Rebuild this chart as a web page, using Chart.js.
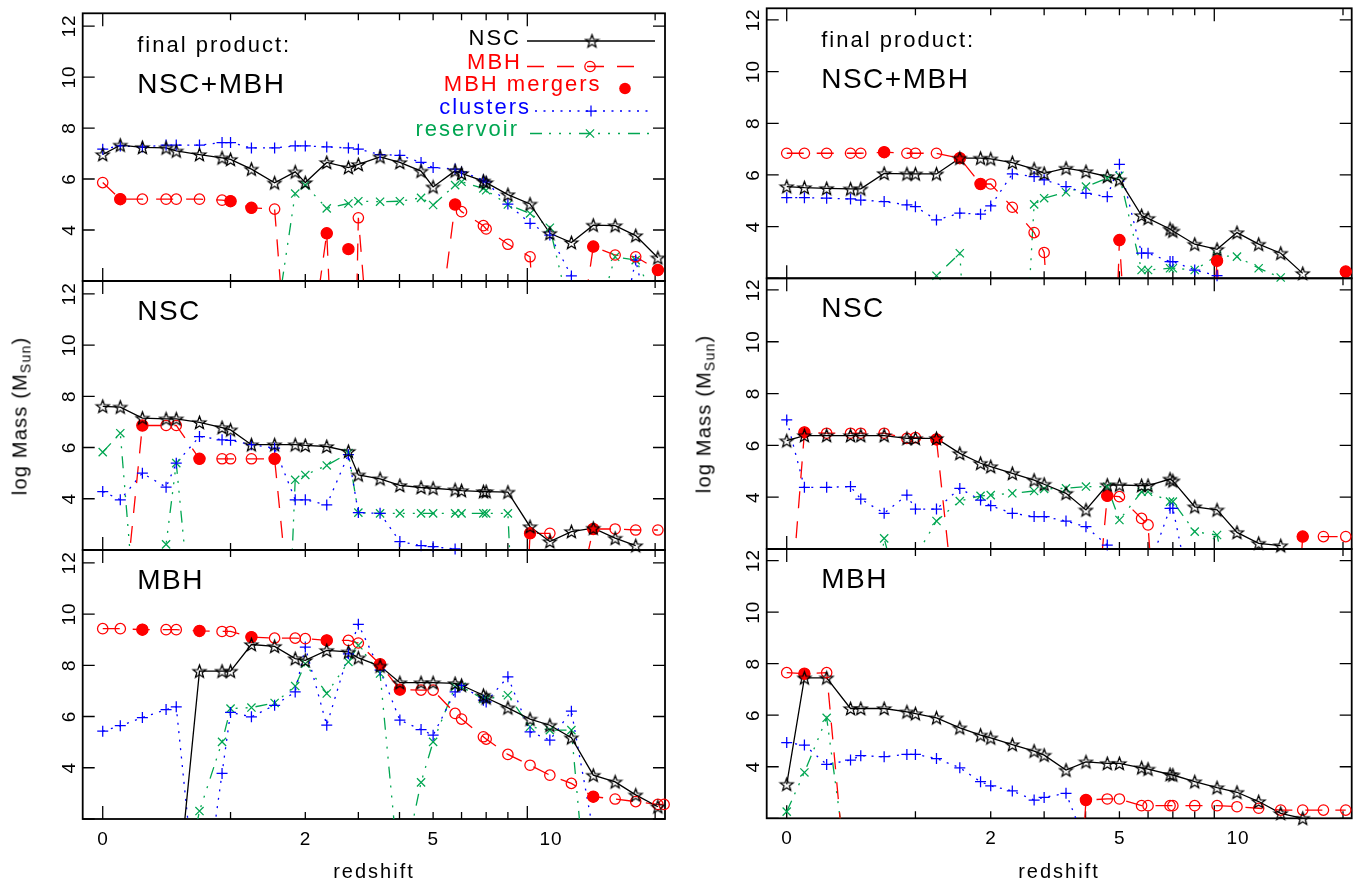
<!DOCTYPE html>
<html>
<head>
<meta charset="utf-8">
<title>NSC and MBH mass growth versus redshift</title>
<script src="https://cdn.jsdelivr.net/npm/chart.js@4.4.1/dist/chart.umd.min.js"></script>
<style>
  html, body { margin: 0; padding: 0; background: #fff; }
  #wrap { position: relative; width: 1369px; height: 884px; overflow: hidden;
          font-family: "Liberation Sans", Arial, sans-serif; color: #000; }
  #wrap canvas { position: absolute; left: 0; top: 0; }
  .ytitle { position: absolute; font-size: 20px; letter-spacing: 1.2px; white-space: nowrap;
            transform: translate(-50%, -50%) rotate(-90deg); }
  .ytitle sub { font-size: 14px; vertical-align: -4px; }
  .xtitle { position: absolute; font-size: 20px; letter-spacing: 2px; white-space: nowrap;
            transform: translateX(-50%); }
</style>
</head>
<body>
<div id="wrap">
  <canvas id="c0" width="1369" height="884"></canvas>
  <canvas id="c1" width="1369" height="884"></canvas>
  <canvas id="c2" width="1369" height="884"></canvas>
  <canvas id="c3" width="1369" height="884"></canvas>
  <canvas id="c4" width="1369" height="884"></canvas>
  <canvas id="c5" width="1369" height="884"></canvas>
  <div class="ytitle" style="left:21px;top:416px">log Mass (M<sub>Sun</sub>)</div>
  <div class="ytitle" style="left:705px;top:414px">log Mass (M<sub>Sun</sub>)</div>
  <div class="xtitle" style="left:374px;top:860px">redshift</div>
  <div class="xtitle" style="left:1059px;top:860px">redshift</div>
</div>
<script>
// Snapshot redshifts shared by all panels
const snapZ = [0, 0.1, 0.24, 0.41, 0.49, 0.69, 0.91, 1.0, 1.24, 1.54, 1.84, 2.0, 2.37, 2.79, 3.0, 3.5,
               4.01, 4.62, 5.0, 5.76, 6.0, 6.88, 7.0, 8.0, 9.15, 10.3, 11.7, 13.3, 15.1, 17.0, 19.3, 20.0];

// Axis ticks: the x axis is logarithmic in (1+z)
const xTickOnePlusZ = [1, 2, 3, 4, 5, 6, 7, 8, 9, 10, 20];
const xMajorOnePlusZ = [1, 10];
const xLabelZ = [0, 2, 5, 10];
const yTickValues = [2, 4, 6, 8, 10, 12];
const yLabelValues = [4, 6, 8, 10, 12];

// ---- left column, final product NSC+MBH ----
const tlNsc = [6.96,7.33,7.24,7.22,7.10,6.96,6.83,6.77,6.39,5.85,6.28,5.86,6.65,6.45,6.57,6.87,6.65,6.31,5.69,6.32,6.22,5.92,5.86,5.39,5.02,3.87,3.51,4.19,4.17,3.78,2.91,null];
const tlMbh = [5.86,5.21,5.21,5.21,5.21,5.21,5.17,5.13,4.87,4.82,-5.5,-2.2,3.87,-15,4.48,-6,-6,-6,-1.7,5.0,4.72,4.17,4.04,3.44,2.95,-10,-2.5,3.35,3.02,2.95,2.43,null];
const tlMerger = [null,5.21,null,null,null,null,null,5.13,4.87,null,null,null,3.87,3.25,null,null,null,null,null,5.0,null,null,null,null,null,null,null,3.35,null,null,2.43,null];
const tlClusters = [7.17,7.30,7.26,7.33,7.33,7.33,7.43,7.43,7.22,7.22,7.30,7.30,7.26,7.22,7.17,6.96,6.93,6.65,6.45,6.39,6.28,5.96,5.89,5.02,4.26,3.80,2.2,-1,-1,2.82,-1,null];
const tlReservoir = [null,null,null,null,null,null,null,null,null,0,5.43,5.76,4.85,5.04,5.13,5.11,5.13,5.26,4.98,5.76,5.89,5.63,5.56,5.0,4.65,4.09,0.5,0,2.95,2.82,1.1,null];

// ---- left column, NSC ----
const mlNsc = [7.61,7.58,7.15,7.12,7.12,6.98,6.78,6.69,6.11,6.11,6.11,6.08,6.04,5.85,4.93,4.78,4.52,4.44,4.41,4.35,4.32,4.28,4.28,4.26,2.91,2.33,2.72,2.85,2.46,2.17,null,null];
const mlMbh = [-1.7,-1.7,6.86,6.86,6.86,5.56,5.56,5.56,5.56,5.56,-2.5,-3,-3,-3,-3,-3,-3,-3,-3,-3,-3,-3,-3,-15,2.65,2.65,-1,2.82,2.82,2.78,2.78,null];
const mlMerger = [null,null,6.86,null,null,5.56,null,null,null,5.56,null,null,null,null,null,null,null,null,null,null,null,null,null,null,2.65,null,null,2.82,null,null,null,null];
const mlClusters = [4.28,3.96,5.0,4.45,5.39,6.43,6.30,6.28,6.11,5.98,3.96,3.96,3.76,5.72,3.46,3.43,2.33,2.17,2.13,2.04,1.95,-1,null,null,null,null,null,null,null,null,null,null];
const mlReservoir = [5.82,6.56,-4,2.22,5.39,-4,null,null,null,-15,4.74,4.93,5.30,5.78,3.46,3.43,3.43,3.43,3.43,3.43,3.43,3.43,3.43,3.43,-15,null,null,null,null,null,null,null];

// ---- left column, MBH ----
const blNsc = [null,null,null,null,-1.4,7.77,7.77,7.77,8.81,8.74,8.26,8.19,8.58,8.52,8.29,7.97,7.32,7.32,7.32,7.29,7.22,6.83,6.73,6.34,5.90,5.66,5.17,3.71,3.45,2.94,2.48,null];
const blMbh = [9.43,9.43,9.39,9.39,9.39,9.34,9.32,9.32,9.10,9.06,9.06,9.04,8.97,8.97,8.87,8.04,7.05,7.03,7.03,6.12,5.90,5.21,5.12,4.52,4.10,3.71,3.39,2.87,2.78,2.68,2.57,2.57];
const blMerger = [null,null,9.39,null,null,9.34,null,null,9.10,null,null,null,8.97,null,null,8.04,7.05,null,null,null,null,null,null,null,null,null,null,2.87,null,null,null,null];
const blClusters = [5.43,5.64,5.96,6.27,6.38,-2.5,3.78,6.16,5.99,6.44,6.96,8.71,5.66,8.45,9.6,7.81,5.86,5.49,5.27,6.96,7.22,6.64,6.57,7.55,5.40,5.08,6.21,1.5,null,null,null,null];
const blReservoir = [null,null,null,null,-2,2.31,5.01,6.31,6.35,6.53,7.19,8.06,6.90,8.13,8.78,7.68,-0.5,3.43,5.01,7.16,7.16,6.68,6.68,6.83,5.60,5.47,5.47,-4,null,null,null,null];

// ---- right column, final product NSC+MBH ----
const trNsc = [5.55,5.51,5.48,5.46,5.46,6.06,6.04,6.04,6.04,6.65,6.65,6.62,6.48,6.23,6.06,6.26,6.13,5.94,5.81,4.43,4.32,3.91,3.83,3.32,3.12,3.77,3.32,2.97,2.19,null,null,null];
const trMbh = [6.84,6.84,6.84,6.84,6.84,6.88,6.84,6.84,6.84,6.65,5.65,5.65,4.75,3.77,3.0,-10,null,-10,3.48,-10,null,null,null,-10,2.68,-10,null,null,null,-10,2.26,null];
const trMerger = [null,null,null,null,null,6.88,null,null,null,6.65,5.65,null,null,null,null,null,null,null,3.48,null,null,null,null,null,2.68,null,null,null,null,null,2.26,null];
const trClusters = [5.12,5.12,5.10,5.07,5.03,4.97,4.84,4.77,4.26,4.52,4.48,4.80,6.04,5.94,5.81,5.55,5.29,5.16,6.41,2.97,2.97,2.65,2.65,2.32,2.10,1.0,null,null,null,null,null,null];
const trReservoir = [null,null,null,null,null,null,null,1.0,2.10,2.97,-10,null,-10,4.86,5.10,5.33,5.55,5.87,5.97,2.32,2.32,2.39,2.39,2.32,2.88,2.84,2.39,2.03,null,null,null,null];

// ---- right column, NSC ----
const mrNsc = [6.18,6.38,6.38,6.38,6.38,6.38,6.27,6.27,6.27,5.69,5.31,5.18,4.92,4.66,4.50,4.15,3.51,4.47,4.47,4.45,4.45,4.70,4.63,3.63,3.51,2.64,2.22,2.13,null,null,null,null];
const mrMbh = [-2.2,6.50,6.47,6.47,6.47,6.47,6.27,6.30,6.23,-2.2,null,null,null,null,null,null,-5,4.05,4.02,3.18,2.93,-10,null,null,null,null,null,-10,2.48,2.48,2.48,null];
const mrMerger = [null,6.50,null,null,null,null,null,null,6.23,null,null,null,null,null,null,null,null,4.05,null,null,null,null,null,null,null,null,null,null,2.48,null,null,null];
const mrClusters = [6.98,4.38,4.38,4.41,3.93,3.38,4.08,3.54,3.54,4.34,3.89,3.67,3.38,3.25,3.25,3.08,2.86,2.15,1.0,1.0,1.2,3.57,3.57,-0.5,null,null,null,null,null,null,null,null];
const mrReservoir = [null,null,null,null,-5,2.41,-1,1.7,3.08,3.85,4.05,4.08,4.15,4.24,4.32,4.34,4.41,4.40,3.12,4.21,4.21,3.83,3.83,2.67,2.54,-1,null,null,null,null,null,null];

// ---- right column, MBH ----
const brNsc = [3.32,7.45,7.45,6.26,6.26,6.26,6.13,6.06,5.90,5.51,5.23,5.12,4.86,4.61,4.45,3.87,4.19,4.13,4.13,3.96,3.91,3.70,3.68,3.42,3.19,3.01,2.65,2.19,2.0,null,null,null];
const brMbh = [7.65,7.61,7.65,-2.4,null,null,null,null,null,null,null,null,null,null,null,-10,2.71,2.75,2.75,2.49,2.49,2.49,2.49,2.49,2.49,2.45,2.39,2.32,2.32,2.32,2.32,null];
const brMerger = [null,7.61,null,null,null,null,null,null,null,null,null,null,null,null,null,null,2.71,null,null,null,null,null,null,null,null,null,null,null,null,null,null,null];
const brClusters = [4.94,4.84,4.09,4.26,4.43,4.39,4.48,4.48,4.32,3.96,3.42,3.26,3.06,2.71,2.81,2.97,1.0,null,null,null,null,null,null,null,null,null,null,null,null,null,null,null];
const brReservoir = [2.26,3.78,5.90,-1,null,null,null,null,null,null,null,null,null,null,null,null,null,null,null,null,null,null,null,null,null,null,null,null,null,null,null,null];

// ---------------- styling ----------------
const RED = '#ff0000', BLUE = '#0000ff', GREEN = '#00a651', BLACK = '#000000';
const DASH_MBH = [17, 13];
const DASH_CLUSTERS = [2, 6.5];
const DASH_RESERVOIR = [12, 7, 2, 8, 2, 8, 2, 8];
const FONT = '"Liberation Sans", Arial, sans-serif';

// open five-pointed star marker
function makeStar() {
  const s = 17, cv = document.createElement('canvas');
  cv.width = s; cv.height = s;
  const g = cv.getContext('2d');
  const cx = s / 2, cy = s / 2 + 0.6, R = 6.8, r = 2.8;
  g.beginPath();
  for (let k = 0; k < 10; k++) {
    const ang = -Math.PI / 2 + k * Math.PI / 5;
    const rad = k % 2 ? r : R;
    g.lineTo(cx + rad * Math.cos(ang), cy + rad * Math.sin(ang));
  }
  g.closePath();
  g.lineWidth = 1.25; g.strokeStyle = BLACK; g.lineJoin = 'miter';
  g.stroke();
  return cv;
}
const STAR = makeStar();

// column geometry (page pixels)
const COLS = [
  { left: 82.7, right: 665.0, xMin: 0.8971, xMax: 21.10, yMax: 12.5,
    rows: [[13.3, 281.0], [281.0, 550.0], [550.0, 819.0]] },
  { left: 766.7, right: 1351.7, xMin: 0.8978, xMax: 20.96, yMax: 12.45,
    rows: [[8.3, 278.3], [278.3, 549.0], [549.0, 818.3]] }
];

function toPoints(vals) {
  const pts = [];
  vals.forEach((v, i) => { if (v !== null) pts.push({ x: 1 + snapZ[i], y: v }); });
  return pts;
}
function lineSet(vals, color, dash) {
  return { data: toPoints(vals), borderColor: color, borderWidth: 1.3, borderDash: dash,
           borderCapStyle: 'butt', borderJoinStyle: 'miter', pointRadius: 0, fill: false,
           tension: 0, spanGaps: true };
}
function pointSet(vals, style, color, fillColor, r, yMax) {
  return { data: toPoints(vals), showLine: false, clip: false, pointStyle: style,
           borderColor: color, backgroundColor: fillColor,
           pointBorderColor: color, pointBackgroundColor: fillColor, pointBorderWidth: 1.25,
           pointRadius: (ctx) => { const p = ctx.raw; return (p && p.y >= 2 && p.y <= yMax) ? r : 0; } };
}
function buildDatasets(s, yMax) {
  return [
    pointSet(s.nsc, STAR, BLACK, 'rgba(0,0,0,0)', 6, yMax),
    pointSet(s.merger, 'circle', RED, RED, 5.6, yMax),
    pointSet(s.mbh, 'circle', RED, 'rgba(0,0,0,0)', 5.2, yMax),
    pointSet(s.clusters, 'cross', BLUE, BLUE, 5.5, yMax),
    pointSet(s.reservoir, 'crossRot', GREEN, GREEN, 5.8, yMax),
    lineSet(s.nsc, BLACK, []),
    lineSet(s.mbh, RED, DASH_MBH),
    lineSet(s.clusters, BLUE, DASH_CLUSTERS),
    lineSet(s.reservoir, GREEN, DASH_RESERVOIR)
  ];
}

// legend marker drawing for the key
function keyMarker(ctx, kind, x, y) {
  ctx.save();
  ctx.setLineDash([]);
  ctx.lineWidth = 1.25;
  if (kind === 'star') {
    ctx.drawImage(STAR, x - STAR.width / 2, y - STAR.height / 2);
  } else if (kind === 'open') {
    ctx.strokeStyle = RED; ctx.beginPath(); ctx.arc(x, y, 5.2, 0, Math.PI * 2); ctx.stroke();
  } else if (kind === 'filled') {
    ctx.fillStyle = RED; ctx.beginPath(); ctx.arc(x, y, 5.8, 0, Math.PI * 2); ctx.fill();
  } else if (kind === 'plus') {
    ctx.strokeStyle = BLUE; ctx.beginPath();
    ctx.moveTo(x - 5.5, y); ctx.lineTo(x + 5.5, y); ctx.moveTo(x, y - 5.5); ctx.lineTo(x, y + 5.5); ctx.stroke();
  } else if (kind === 'x') {
    const d = 4.1; ctx.strokeStyle = GREEN; ctx.beginPath();
    ctx.moveTo(x - d, y - d); ctx.lineTo(x + d, y + d); ctx.moveTo(x - d, y + d); ctx.lineTo(x + d, y - d); ctx.stroke();
  }
  ctx.restore();
}

const KEY = [
  { text: 'NSC', color: BLACK, right: 519, base: 45, line: [527, 655], lineY: 41, dash: [], marker: 'star', mx: 592 },
  { text: 'MBH', color: RED, right: 520, base: 69, line: [527, 642], lineY: 66.5, dash: DASH_MBH, marker: 'open', mx: 590 },
  { text: 'MBH mergers', color: RED, right: 599.5, base: 91, line: null, lineY: 88.5, dash: [], marker: 'filled', mx: 625 },
  { text: 'clusters', color: BLUE, right: 529, base: 113.5, line: [535, 654], lineY: 111, dash: DASH_CLUSTERS, marker: 'plus', mx: 591 },
  { text: 'reservoir', color: GREEN, right: 517, base: 136, line: [530, 655], lineY: 133.5, dash: DASH_RESERVOIR, marker: 'x', mx: 590 }
];

// frame, inward ticks, tick labels, panel titles and key
const panelDeco = {
  id: 'panelDeco',
  beforeDatasetsDraw(chart, args, opts) {
    const { ctx, chartArea: a } = chart;
    const xs = chart.scales.x, ys = chart.scales.y;
    ctx.save();
    ctx.setLineDash([]);
    ctx.strokeStyle = BLACK;
    ctx.lineWidth = 1.3;
    ctx.beginPath();
    for (const t of xTickOnePlusZ) {
      const px = xs.getPixelForValue(t);
      const len = xMajorOnePlusZ.includes(t) ? 13 : 7;
      ctx.moveTo(px, a.bottom); ctx.lineTo(px, a.bottom - len);
      ctx.moveTo(px, a.top); ctx.lineTo(px, a.top + len);
    }
    for (const v of yTickValues) {
      const py = ys.getPixelForValue(v);
      ctx.moveTo(a.left, py); ctx.lineTo(a.left + 12, py);
      ctx.moveTo(a.right, py); ctx.lineTo(a.right - 12, py);
    }
    ctx.stroke();
    ctx.lineWidth = 1.8;
    ctx.strokeRect(a.left, a.top, a.right - a.left, a.bottom - a.top);

    ctx.fillStyle = BLACK;
    // y tick labels, rotated
    ctx.font = '19px ' + FONT;
    ctx.letterSpacing = '1px';
    ctx.textAlign = 'center';
    ctx.textBaseline = 'middle';
    for (const v of yLabelValues) {
      const py = ys.getPixelForValue(v);
      ctx.save();
      ctx.translate(a.left - 13, py);
      ctx.rotate(-Math.PI / 2);
      ctx.fillText(String(v), 0, 0);
      ctx.restore();
    }
    // x tick labels on the lowest panel
    if (opts.xLabels) {
      ctx.textAlign = 'left';
      ctx.textBaseline = 'alphabetic';
      for (const z of xLabelZ) {
        const px = xs.getPixelForValue(1 + z);
        ctx.fillText(String(z), px - 5.5, a.bottom + 26);
      }
    }
    // panel titles
    ctx.textAlign = 'left';
    ctx.textBaseline = 'alphabetic';
    for (const t of (opts.titles || [])) {
      ctx.font = t.size + 'px ' + FONT;
      ctx.letterSpacing = t.spacing + 'px';
      ctx.fillText(t.text, a.left + 54.5, a.top + t.base);
    }
    // key
    if (opts.key) {
      ctx.font = '22px ' + FONT;
      ctx.letterSpacing = '2px';
      ctx.textAlign = 'right';
      for (const k of KEY) {
        ctx.fillStyle = k.color;
        ctx.fillText(k.text, k.right + 2, k.base);
        if (k.line) {
          ctx.strokeStyle = k.color;
          ctx.lineWidth = 1.3;
          ctx.setLineDash(k.dash);
          ctx.beginPath(); ctx.moveTo(k.line[0], k.lineY); ctx.lineTo(k.line[1], k.lineY); ctx.stroke();
        }
        keyMarker(ctx, k.marker, k.mx, k.lineY);
      }
    }
    ctx.restore();
  }
};

const TOP_TITLES = [
  { text: 'final product:', size: 22, spacing: 2, base: 38.5 },
  { text: 'NSC+MBH', size: 28, spacing: 1.5, base: 80 }
];
const PANELS = [
  { canvas: 'c0', col: 0, row: 0, s: { nsc: tlNsc, mbh: tlMbh, merger: tlMerger, clusters: tlClusters, reservoir: tlReservoir }, titles: TOP_TITLES, key: true },
  { canvas: 'c1', col: 0, row: 1, s: { nsc: mlNsc, mbh: mlMbh, merger: mlMerger, clusters: mlClusters, reservoir: mlReservoir }, titles: [{ text: 'NSC', size: 28, spacing: 1.5, base: 38.5 }] },
  { canvas: 'c2', col: 0, row: 2, s: { nsc: blNsc, mbh: blMbh, merger: blMerger, clusters: blClusters, reservoir: blReservoir }, titles: [{ text: 'MBH', size: 28, spacing: 1.5, base: 38.5 }], xLabels: true },
  { canvas: 'c3', col: 1, row: 0, s: { nsc: trNsc, mbh: trMbh, merger: trMerger, clusters: trClusters, reservoir: trReservoir }, titles: TOP_TITLES },
  { canvas: 'c4', col: 1, row: 1, s: { nsc: mrNsc, mbh: mrMbh, merger: mrMerger, clusters: mrClusters, reservoir: mrReservoir }, titles: [{ text: 'NSC', size: 28, spacing: 1.5, base: 38.5 }] },
  { canvas: 'c5', col: 1, row: 2, s: { nsc: brNsc, mbh: brMbh, merger: brMerger, clusters: brClusters, reservoir: brReservoir }, titles: [{ text: 'MBH', size: 28, spacing: 1.5, base: 38.5 }], xLabels: true }
];

const PAGE_W = 1369, PAGE_H = 884;
for (const p of PANELS) {
  const c = COLS[p.col];
  const [top, bottom] = c.rows[p.row];
  new Chart(document.getElementById(p.canvas), {
    type: 'line',
    data: { datasets: buildDatasets(p.s, c.yMax) },
    options: {
      responsive: false,
      maintainAspectRatio: false,
      animation: false,
      events: [],
      devicePixelRatio: 1,
      layout: { padding: { left: c.left, right: PAGE_W - c.right, top: top, bottom: PAGE_H - bottom } },
      scales: {
        x: { type: 'logarithmic', display: false, min: c.xMin, max: c.xMax, bounds: 'data' },
        y: { type: 'linear', display: false, min: 2, max: c.yMax, bounds: 'data' }
      },
      plugins: {
        legend: { display: false },
        tooltip: { enabled: false },
        panelDeco: { titles: p.titles, key: !!p.key, xLabels: !!p.xLabels }
      }
    },
    plugins: [panelDeco]
  });
}
</script>
</body>
</html>
